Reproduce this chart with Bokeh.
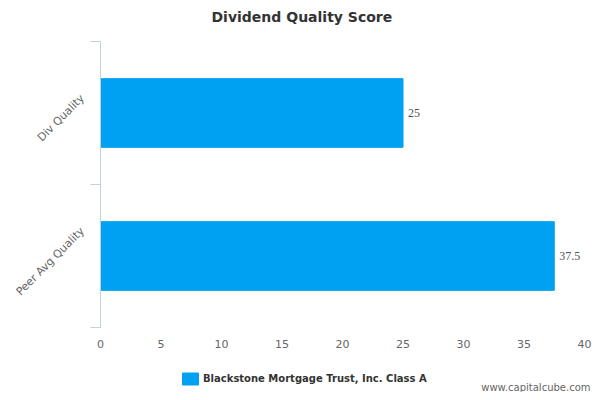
import math
from bokeh.plotting import figure
from bokeh.layouts import column, row
from bokeh.models import (Range1d, FixedTicker, ColumnDataSource, Legend, LegendItem,
                          Label, LabelSet)
from bokeh.embed import file_html
from bokeh.resources import INLINE

# ---- data ----
categories = ["Div Quality", "Peer Avg Quality"]
scores = [25, 37.5]
series_name = "Blackstone Mortgage Trust, Inc. Class A"
x_ticks = [0, 5, 10, 15, 20, 25, 30, 35, 40]
chart_title = "Dividend Quality Score"
credit = "www.capitalcube.com"

FONT = "DejaVu Sans"
BAR = "#00a1f0"
AXIS = "#c0d0e0"
W = 592


def strip(height):
    f = figure(width=W, height=height, output_backend="svg", toolbar_location=None,
               x_range=Range1d(0, 1), y_range=Range1d(100, 101),
               x_axis_location=None, y_axis_location=None,
               min_border_left=0, min_border_right=0, min_border_top=0,
               min_border_bottom=0)
    f.outline_line_color = None
    f.xgrid.grid_line_color = None
    f.ygrid.grid_line_color = None
    return f


n = len(categories)
ypos = [n - i - 0.5 for i in range(n)]
# rotated category labels: centre each label's box near its band centre
band_px = 143.0
label_pos = [y + (len(c) * 5.8 * 0.354 - 6) / band_px for y, c in zip(ypos, categories)]
src = ColumnDataSource(dict(y=ypos, score=scores,
                            label=[f"{s:g}" for s in scores], cat=categories))

# ---- header strip: title ----
p0 = strip(30)
p0.add_layout(Label(x=211, y=13.5, x_units="screen", y_units="screen",
                    text=chart_title, text_align="left", text_baseline="middle",
                    text_font=FONT, text_font_size="14px", text_font_style="bold",
                    text_color="#333333"))

# ---- main chart ----
p = figure(width=W, height=328, output_backend="svg", toolbar_location=None,
           x_range=Range1d(x_ticks[0], x_ticks[-1]), y_range=Range1d(0, n),
           min_border_left=100, min_border_right=8, min_border_top=11,
           min_border_bottom=31)
p.outline_line_color = None
p.xgrid.grid_line_color = None
p.ygrid.grid_line_color = None

r = p.hbar(y="y", right="score", left=0, height=0.48, color=BAR, source=src)

p.add_layout(LabelSet(x="score", y="y", text="label", source=src, x_offset=5,
                      text_baseline="middle", text_font=FONT,
                      text_font_size="12px", text_color="#555555"))

# y axis
ya = p.yaxis[0]
ya.ticker = FixedTicker(ticks=label_pos, minor_ticks=[float(i) for i in range(n + 1)])
ya.major_label_overrides = {y: c for y, c in zip(label_pos, categories)}
ya.major_label_orientation = math.pi / 4
ya.major_tick_line_color = None
ya.minor_tick_line_color = AXIS
ya.minor_tick_out = 10
ya.minor_tick_in = 0
ya.axis_line_color = AXIS
ya.major_label_text_font = FONT
ya.major_label_text_font_size = "11px"
ya.major_label_text_color = "#666666"
ya.major_label_standoff = 8

# x axis
xa = p.xaxis[0]
xa.ticker = FixedTicker(ticks=x_ticks)
xa.axis_line_color = None
xa.major_tick_line_color = None
xa.minor_tick_line_color = None
xa.major_label_text_font = FONT
xa.major_label_text_font_size = "11px"
xa.major_label_text_color = "#666666"
xa.major_label_standoff = 6

# ---- footer strip: legend + credit ----
p2 = strip(34)
swatch = p2.hbar(y="y", right="score", left=0, height=0.48, color=BAR, source=src)

legend = Legend(items=[LegendItem(label=series_name, renderers=[swatch])],
                orientation="horizontal", location=(180, 6),
                border_line_color=None, background_fill_alpha=0,
                label_text_font=FONT, label_text_font_size="10px",
                label_text_font_style="bold", label_text_color="#333333",
                glyph_width=20, glyph_height=15, padding=4, margin=0,
                label_standoff=3)
p2.add_layout(legend, "center")

p2.add_layout(Label(x=590, y=5.5, x_units="screen", y_units="screen",
                    text=credit, text_align="right", text_baseline="middle",
                    text_font=FONT, text_font_size="10px", text_color="#666666"))

page = column(row(p0, spacing=0), p, row(p2, spacing=0), spacing=0)
open("out.html", "w").write(file_html(page, INLINE))
